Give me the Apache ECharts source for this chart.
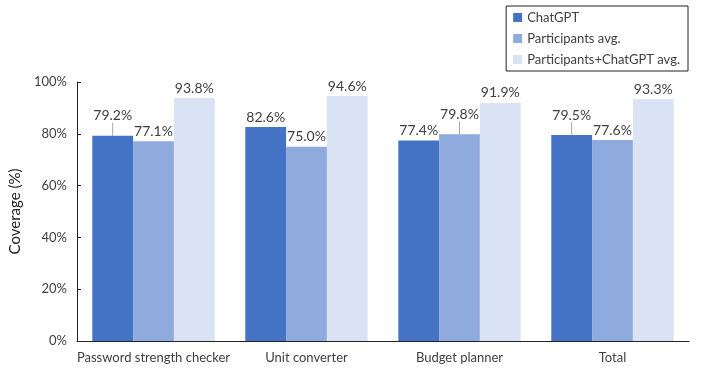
<!DOCTYPE html>
<html>
<head>
<meta charset="utf-8">
<script src="https://cdn.jsdelivr.net/npm/echarts@6/dist/echarts.min.js"></script>
<style>
  html, body { margin: 0; padding: 0; background: #fff; }
  #chart { width: 706px; height: 370px; }
</style>
</head>
<body>
<div id="chart"></div>
<script>
const categories = ['Password strength checker', 'Unit converter', 'Budget planner', 'Total']
const seriesNames = ['ChatGPT', 'Participants avg.', 'Participants+ChatGPT avg.']
const chatgpt = [79.2, 82.6, 77.4, 79.5]
const participants = [77.1, 75.0, 79.8, 77.6]
const combined = [93.8, 94.6, 91.9, 93.3]
const yTicks = [0, 20, 40, 60, 80, 100]

// labels lifted with a guide line, as in the original
const lifted = { '0-0': true, '1-2': true, '0-3': true }

const colors = ['#4472C4', '#8FAADC', '#DAE3F3']
const font = 'Lato, "Open Sans", sans-serif'
const textColor = '#404040'

const chart = echarts.init(document.getElementById('chart'))

const makeSeries = (name, data, i) => ({
  name,
  type: 'bar',
  data: data.map((v, j) => ({
    value: v,
    labelLine: { show: !!lifted[i + '-' + j] },
  })),
  barGap: '0%',
  barCategoryGap: '20%',
  itemStyle: { color: colors[i] },
  label: {
    show: true,
    position: 'top',
    distance: 3,
    color: textColor,
    fontFamily: font,
    fontSize: 14,
    formatter: (p) => p.value.toFixed(1) + '%',
  },
  labelLine: {
    show: false,
    lineStyle: { color: '#a6a6a6', width: 1 },
  },
  labelLayout: (p) => (lifted[i + '-' + p.dataIndex] ? { dy: -10 } : {}),
})

chart.setOption({
  animation: false,
  textStyle: { fontFamily: font },
  legend: {
    orient: 'vertical',
    right: 18,
    top: 6,
    padding: [5, 8, 5, 7],
    borderColor: '#222',
    borderWidth: 1,
    itemWidth: 9,
    itemHeight: 9,
    itemGap: 8,
    icon: 'rect',
    textStyle: { color: textColor, fontSize: 13, fontFamily: font },
    data: seriesNames,
  },
  grid: { left: 77, right: 17, top: 82, bottom: 29 },
  xAxis: {
    type: 'category',
    data: categories,
    axisLine: { lineStyle: { color: '#222' } },
    axisTick: { show: false },
    axisLabel: { color: textColor, fontSize: 13, fontFamily: font, margin: 10, interval: 0 },
  },
  yAxis: {
    type: 'value',
    min: yTicks[0],
    max: yTicks[yTicks.length - 1],
    interval: 20,
    name: 'Coverage (%)',
    nameLocation: 'middle',
    nameGap: 50,
    nameTextStyle: { color: '#222', fontSize: 15, fontFamily: font },
    axisLine: { show: true, lineStyle: { color: '#222' } },
    axisTick: { show: true, inside: true, length: 4, lineStyle: { color: '#222' } },
    splitLine: { show: false },
    axisLabel: { color: textColor, fontSize: 13, fontFamily: font, margin: 10, formatter: '{value}%' },
  },
  series: [
    makeSeries(seriesNames[0], chatgpt, 0),
    makeSeries(seriesNames[1], participants, 1),
    makeSeries(seriesNames[2], combined, 2),
  ],
})
</script>
</body>
</html>
